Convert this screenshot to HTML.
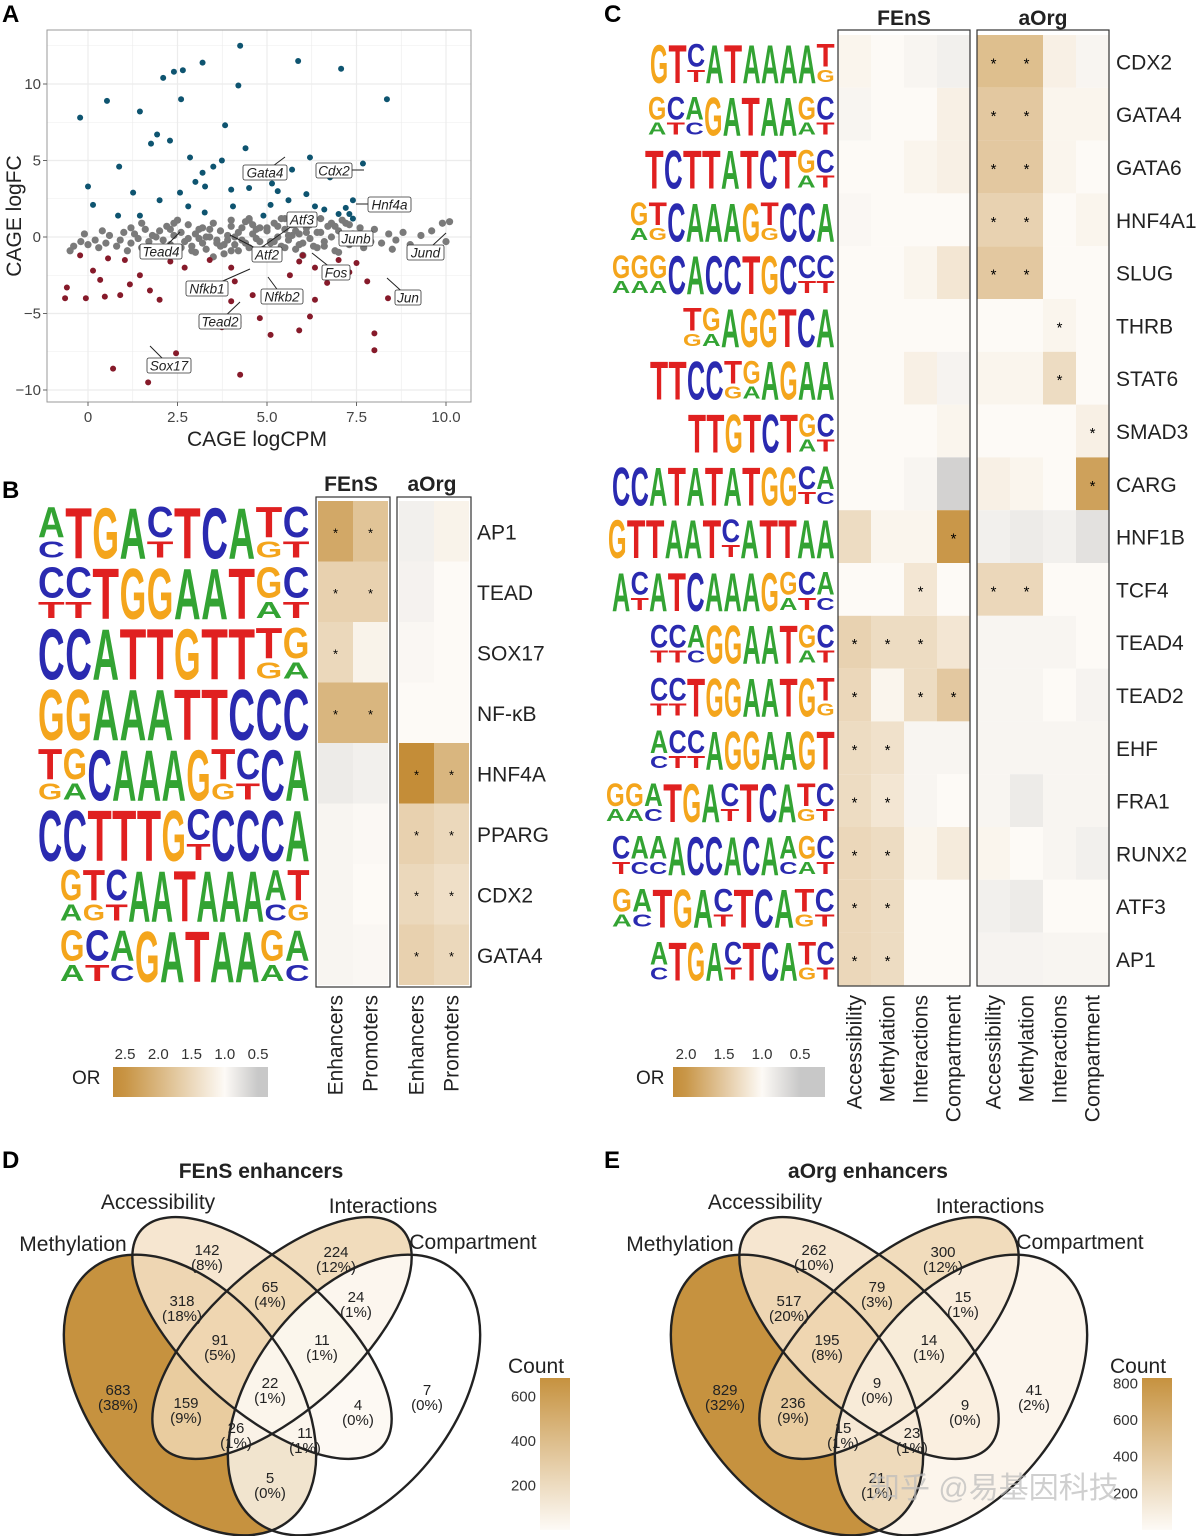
<!DOCTYPE html>
<html><head><meta charset="utf-8"><style>
html,body{margin:0;padding:0;background:#fff;}
svg{display:block;font-family:"Liberation Sans","Noto Sans CJK SC",sans-serif;}
</style></head><body>
<svg id="fig" width="1196" height="1536" viewBox="0 0 1196 1536" xmlns="http://www.w3.org/2000/svg">
<g id="panelA"></g>
<g id="panelB"></g>
<g id="panelC"></g>
<g id="panelD"></g>
<g id="panelE"></g>
<text x="870" y="1498" font-size="30" fill="#bbb" fill-opacity="0.7">知乎 @易基因科技</text>
</svg>
<script>
// ---------- Panel A data ----------
const aBlueX=[-0.22,2.1,2.4,2.65,3.2,4.25,5.87,7.07,8.35,2.6,4.2,0.53,1.45,1.93,1.76,0.87,0,0.14,1.26,2.29,3.83,2.85,3.2,4.7,5.14,6.2,7.68,6.1,6.76,7.4,7.3,5.6,4.9,4.05,3.26,2.57,2.0,1.45,4.5,6.34,7.0,7.4,3.74,5.7,3.27,2.8,5.1,0.84,4.0,3.5,4.4,5.3,6.6,7.2,3.0];
const aBlueY=[7.8,10.4,10.8,10.9,11.4,12.5,11.5,11.0,9.0,9.0,9.9,8.9,8.2,6.7,6.1,4.6,3.3,2.1,2.9,6.3,7.3,5.2,4.2,4.2,3.5,5.2,4.8,2.8,3.9,2.4,1.5,2.4,1.4,2.0,1.6,2.9,2.4,1.4,3.2,2.0,1.5,1.2,5.0,4.4,3.3,2.0,2.1,1.4,3.1,4.6,5.8,3.0,1.8,1.9,3.6];
const aRedX=[-0.22,-0.59,-0.64,-0.06,0.47,0.9,0.14,1.45,1.73,2.0,0.7,1.68,2.46,4.25,4.2,3.74,4.6,5.1,5.9,6.2,6.34,5.56,4.8,4.0,8.0,8.0,8.38,7.8,7.3,6.68,6.34,5.9,4.75,4.0,3.4,2.7,2.3,1.03,0.56,3.13,4.1,5.64,7.0,0.34,1.17,5.0,5.3,6.0,7.5];
const aRedY=[-1.2,-3.3,-4.0,-4.0,-3.9,-3.8,-2.2,-2.5,-3.5,-4.1,-8.6,-9.5,-7.6,-9.0,-5.6,-5.9,-3.8,-6.4,-6.1,-5.2,-4.1,-3.6,-5.3,-4.2,-6.3,-7.4,-4.0,-2.9,-2.3,-3.0,-2.0,-1.6,-1.0,-2.0,-1.5,-2.0,-1.6,-1.5,-1.4,-3.5,-2.9,-2.5,-1.5,-2.8,-3.1,-1.3,-1.4,-1.2,-1.7];
const aGreyX=[-0.4,-0.2,-0.5,0.0,0.2,0.3,0.5,0.6,0.8,0.9,1.0,1.1,1.2,1.3,1.4,1.5,1.6,1.7,1.8,1.9,2.0,2.1,2.2,2.3,2.4,2.5,2.6,2.7,2.8,2.9,3.0,3.1,3.2,3.3,3.4,3.5,3.6,3.7,3.8,3.9,4.0,4.1,4.2,4.3,4.4,4.5,4.6,4.7,4.8,4.9,5.0,5.1,5.2,5.3,5.4,5.5,5.6,5.7,5.8,5.9,6.0,6.1,6.2,6.3,6.4,6.5,6.6,6.7,6.8,6.9,7.0,7.1,7.2,7.3,7.4,7.5,7.6,7.7,7.8,7.9,8.0,8.2,8.4,8.6,8.8,9.0,9.3,9.6,9.9,10.1,10.0,1.5,2.0,2.5,3.0,3.5,4.0,4.5,5.0,5.5,6.0,6.5,7.0,3.2,3.7,4.2,4.8,5.3,5.8,6.3,2.8,2.3,1.2,0.4,-0.1,8.5,9.2,6.8,7.3,4.0,3.4,2.6,3.1,3.6,4.1,4.6,5.1,5.6,6.1,6.6,7.1,3.3,3.8,4.3,4.9,5.4,5.9,6.4,6.9,2.9,2.4,1.9,4.4,4.7,5.2,5.7,6.2,3.9,4.5,5.0,5.5];
const aGreyY=[-0.6,-0.3,-0.9,-0.5,-0.2,-0.7,-0.4,0.1,-0.6,-0.2,0.3,-0.9,-0.4,0.2,-0.1,-0.7,0.5,-0.3,0.1,-0.8,0.4,-0.2,0.7,-0.5,0.1,-1.0,0.3,-0.3,0.8,-0.6,0.2,-0.1,0.6,-0.8,0.0,0.9,-0.4,0.4,-1.1,0.1,0.7,-0.5,0.3,-0.2,1.0,-0.7,0.2,-0.1,0.6,-0.9,0.4,-0.3,0.9,0.0,-0.6,0.5,-0.2,0.8,-0.8,0.2,-0.4,0.6,-0.1,1.0,-0.7,0.3,-0.3,0.7,0.0,-0.9,0.4,-0.2,0.9,-0.5,0.2,-0.1,0.6,-0.7,0.1,-0.3,0.5,-0.4,0.2,-0.2,0.3,-0.5,0.1,0.4,0.9,1.0,-0.3,0.9,-1.2,1.1,-1.0,-1.3,-0.9,1.2,-1.1,1.2,-1.2,1.2,-1.0,-0.4,-0.6,-0.9,-0.3,0.7,0.4,-0.6,-0.1,0.5,0.6,0.4,0.2,-0.8,-0.8,0.9,0.8,1.1,0.5,-0.7,0.5,-0.2,0.0,0.8,-0.4,0.1,0.3,-0.6,1.1,0.0,-0.5,0.6,-0.8,1.2,-0.5,0.3,0.7,-0.9,0.9,0.0,-0.4,0.5,-0.3,0.1,0.8,-0.2,1.1,0.6,-0.7,0.2];
const aXTicks=[0,2.5,5,7.5,10];
const aXTickLabels=["0","2.5","5.0","7.5","10.0"];
const aYTicks=[10,5,0,-5,-10];
const aYTickLabels=["10","5","0","\u22125","\u221210"];

// ---------- Panel B data ----------
const bMotifs=["AP1","TEAD","SOX17","NF-\u03baB","HNF4A","PPARG","CDX2","GATA4"];
const bFEnS=[[2.2,1.8],[1.6,1.6],[1.5,1.1],[2.0,2.0],[0.85,0.9],[0.95,0.98],[0.95,1.0],[0.95,0.97]];
const bAOrg=[[0.9,1.1],[0.92,1.0],[0.97,1.0],[1.0,1.0],[2.6,2.0],[1.6,1.5],[1.5,1.4],[1.6,1.5]];
const bSigF=[[1,1],[1,1],[1,0],[1,1],[0,0],[0,0],[0,0],[0,0]];
const bSigA=[[0,0],[0,0],[0,0],[0,0],[1,1],[1,1],[1,1],[1,1]];
const bLogos=["aTGAcTCAtc","ccTGGAATgc","CCATTGTTtg","GGAAATTCCC","tgCAAAGtcCA","CCTTTGcCCCA","gtcAATAAAat","gcaGATAAga"];
const bCols=["Enhancers","Promoters"];
const bBarTicks=[2.5,2.0,1.5,1.0,0.5];

// ---------- Panel C data ----------
const cMotifs=["CDX2","GATA4","GATA6","HNF4A1","SLUG","THRB","STAT6","SMAD3","CARG","HNF1B","TCF4","TEAD4","TEAD2","EHF","FRA1","RUNX2","ATF3","AP1"];
const cFEnS=[[1.05,1.0,0.95,0.9],[0.95,1.0,1.0,1.1],[1.0,1.0,1.05,1.1],[0.97,1.0,1.0,1.0],[1.0,1.0,1.05,1.2],[1.0,1.0,1.0,1.0],[1.0,1.0,1.1,0.93],[1.0,1.0,1.0,1.05],[1.0,1.0,0.95,0.6],[1.3,1.05,1.05,2.0],[1.0,1.0,1.2,1.0],[1.4,1.3,1.3,1.2],[1.35,1.05,1.3,1.5],[1.3,1.25,0.95,0.95],[1.3,1.2,0.95,1.0],[1.35,1.3,1.05,1.15],[1.35,1.3,1.0,1.0],[1.35,1.3,1.0,1.0]];
const cAOrg=[[1.6,1.6,1.1,0.95],[1.5,1.5,1.05,1.05],[1.5,1.5,1.05,1.0],[1.4,1.4,1.0,1.05],[1.5,1.5,1.0,1.0],[1.0,1.0,1.05,1.0],[1.05,1.05,1.3,1.0],[1.0,1.0,1.0,1.1],[1.1,1.05,1.0,1.9],[0.9,0.85,0.9,0.75],[1.35,1.35,1.0,1.0],[0.95,0.95,0.95,1.0],[0.95,0.95,1.0,0.93],[0.95,0.95,0.95,0.95],[0.95,0.85,0.95,0.95],[1.05,1.0,0.95,0.9],[0.9,0.85,1.0,1.0],[0.93,0.93,0.95,0.95]];
const cSigF=[[0,0,0,0],[0,0,0,0],[0,0,0,0],[0,0,0,0],[0,0,0,0],[0,0,0,0],[0,0,0,0],[0,0,0,0],[0,0,0,0],[0,0,0,1],[0,0,1,0],[1,1,1,0],[1,0,1,1],[1,1,0,0],[1,1,0,0],[1,1,0,0],[1,1,0,0],[1,1,0,0]];
const cSigA=[[1,1,0,0],[1,1,0,0],[1,1,0,0],[1,1,0,0],[1,1,0,0],[0,0,1,0],[0,0,1,0],[0,0,0,1],[0,0,0,1],[0,0,0,0],[1,1,0,0],[0,0,0,0],[0,0,0,0],[0,0,0,0],[0,0,0,0],[0,0,0,0],[0,0,0,0],[0,0,0,0]];
const cLogos=["GTcATAAAAt","gcaGATAAgc","TCTTATCTgc","gtCAAAGtCCA","gggCACCTGCcc","tgAGGTCA","TTCCtgAGAA","TTGTCTgc","CCATATATGGca","GTTAATcATTAA","AcATCAAAGgca","ccaGGAATgc","ccTGGAATGt","accAGGAAGT","ggaTGAcTCAtc","caaACCACAagc","gaTGAcTCAtc","aTGAcTCAtc"];
const cLogoX=[650,648,645,630,612,683,650,688,612,608,612,650,650,650,606,612,612,650];
const cCols=["Accessibility","Methylation","Interactions","Compartment"];
const cBarTicks=[2.0,1.5,1.0,0.5];

// ---------- Panels D/E data ----------
const vennSets=["Methylation","Accessibility","Interactions","Compartment"];
const dCounts=["683","318","142","65","224","24","91","11","22","159","4","7","26","11","5"];
const dPct=["38%","18%","8%","4%","12%","1%","5%","1%","1%","9%","0%","0%","1%","1%","0%"];
const eCounts=["829","517","262","79","300","15","195","14","9","236","9","41","15","23","21"];
const ePct=["32%","20%","10%","3%","12%","1%","8%","1%","0%","9%","0%","2%","1%","1%","1%"];
const dBarTicks=[600,400,200];
const eBarTicks=[800,600,400,200];

// ---------- helpers ----------
const NS="http://www.w3.org/2000/svg";
function mk(tag,attrs,parent,txt){const e=document.createElementNS(NS,tag);for(const k in attrs)e.setAttribute(k,attrs[k]);if(txt!==undefined)e.textContent=txt;parent.appendChild(e);return e;}
function mix(c1,c2,t){t=Math.max(0,Math.min(1,t));const r=[0,1,2].map(i=>Math.round(c1[i]+(c2[i]-c1[i])*t));return`rgb(${r[0]},${r[1]},${r[2]})`;}
const GOLD=[196,141,56],WHITE=[253,250,246],GREY=[200,200,200];
function orColor(v,max){return v>=1?mix(WHITE,GOLD,(v-1)/(max-1)):mix(WHITE,GREY,(1-v)/0.5);}
const LC={A:"#33a333",C:"#2a2ab0",G:"#f4a51c",T:"#e02020"};
function drawLogo(g,str,x0,x1,yTop,yBot){
  const n=str.length,w=(x1-x0)/n,h=yBot-yTop;
  for(let i=0;i<n;i++){const ch=str[i],up=ch.toUpperCase(),small=ch!==up;
    const hh=small?h*0.55:h*0.92, top=small?yTop+h*0.05:yTop+h*0.06;
    const fs=hh/0.72;
    const t=mk("text",{x:x0+i*w,y:top+hh,"font-size":fs,"font-weight":"bold",fill:LC[up],textLength:w*0.98,lengthAdjust:"spacingAndGlyphs"},g,up);
    
    
    if(small){const other={A:"C",C:"T",G:"A",T:"G"}[up];
      const t2=mk("text",{x:x0+i*w,y:yBot-2,"font-size":h*0.3/0.72,"font-weight":"bold",fill:LC[other],textLength:w*0.98,lengthAdjust:"spacingAndGlyphs"},g,other);
      
      }
  }
}
function label(g,x,y,txt,opts){const a=Object.assign({x:x,y:y,"font-size":20,fill:"#222"},opts||{});return mk("text",a,g,txt);}

// ---------- Panel A ----------
(function(){
 const g=document.getElementById("panelA");
 const X=v=>88+v*35.8, Y=v=>237-v*15.3;
 const pl=47,pr=471,pt=30,pb=402;
 mk("rect",{x:pl,y:pt,width:pr-pl,height:pb-pt,fill:"#fff"},g);
 for(let v=-1.25;v<=11.5;v+=1.25){const x=X(v);if(x>pl&&x<pr)mk("line",{x1:x,x2:x,y1:pt,y2:pb,stroke:"#ececec","stroke-width":Math.abs(v/2.5-Math.round(v/2.5))<1e-6?1.2:0.6},g);}
 for(let v=-12.5;v<=12.5;v+=2.5){const y=Y(v);if(y>pt&&y<pb)mk("line",{x1:pl,x2:pr,y1:y,y2:y,stroke:"#ececec","stroke-width":Math.abs(v/5-Math.round(v/5))<1e-6?1.2:0.6},g);}
 mk("rect",{x:pl,y:pt,width:pr-pl,height:pb-pt,fill:"none",stroke:"#999","stroke-width":1},g);
 aXTicks.forEach((v,i)=>{mk("line",{x1:X(v),x2:X(v),y1:pb,y2:pb+4,stroke:"#666"},g);const t=label(g,X(v),pb+20,aXTickLabels[i],{"font-size":15,"text-anchor":"middle",fill:"#444"});});
 aYTicks.forEach((v,i)=>{mk("line",{x1:pl-4,x2:pl,y1:Y(v),y2:Y(v),stroke:"#666"},g);const t=label(g,pl-6,Y(v)+5,aYTickLabels[i],{"font-size":15,"text-anchor":"end",fill:"#444"});});
 const xt=label(g,257,446,"CAGE logCPM",{"text-anchor":"middle","font-size":21});
 const yt=label(g,0,0,"CAGE logFC",{"text-anchor":"middle","font-size":21,transform:"translate(21,216) rotate(-90)"});
 aGreyX.forEach((v,i)=>{const c=mk("circle",{cx:X(v),cy:Y(aGreyY[i]),r:3.6,fill:"#7a7a7a"},g);});
 aBlueX.forEach((v,i)=>{const c=mk("circle",{cx:X(v),cy:Y(aBlueY[i]),r:3.0,fill:"#0e5470"},g);});
 aRedX.forEach((v,i)=>{const c=mk("circle",{cx:X(v),cy:Y(aRedY[i]),r:3.0,fill:"#861a2a"},g);});
 const labs=[["Gata4",243,165,44,285],["Cdx2",316,163,36,364],["Hnf4a",368,197,43,356],["Atf3",287,212,30,255],["Junb",339,231,34,360],["Jund",407,245,37,446],["Tead4",140,244,42,180],["Atf2",252,247,30,230],["Fos",322,265,28,312],["Nfkb1",186,281,42,250],["Nfkb2",261,289,42,268],["Jun",395,290,26,387],["Tead2",199,314,42,240],["Sox17",147,358,44,150]];
 labs.forEach(l=>{mk("line",{x1:l[1]+l[3]/2,y1:l[2]+7,x2:l[4],y2:l[2]<237?l[2]+(l[0]=="Gata4"?-8:(l[0]=="Atf3"?40:7)):l[2]-12,stroke:"#222","stroke-width":1},g);
  const r=mk("rect",{x:l[1],y:l[2],width:l[3],height:15,rx:2,fill:"#fff",stroke:"#333","stroke-width":0.8},g);
  const t=label(g,l[1]+l[3]/2,l[2]+12.5,l[0],{"font-size":13.5,"font-style":"italic","text-anchor":"middle"});});
 const pa=label(g,2,22,"A",{"font-size":24,"font-weight":"bold",fill:"#000"});
})();

// ---------- Panel B ----------
(function(){
 const g=document.getElementById("panelB");
 const top=501,rh=60.5,cw=35;
 const fx=318,ax=399;
 bMotifs.forEach((m,r)=>{
  const y=top+r*rh;
  for(let c=0;c<2;c++){
   const r1=mk("rect",{x:fx+c*cw,y:y,width:cw,height:rh,fill:orColor(bFEnS[r][c],2.6)},g);
   const r2=mk("rect",{x:ax+c*cw,y:y,width:cw,height:rh,fill:orColor(bAOrg[r][c],2.6)},g);
   if(bSigF[r][c])label(g,fx+c*cw+cw/2,y+rh/2+6,"*",{"font-size":13,"text-anchor":"middle",fill:"#000"});
   if(bSigA[r][c])label(g,ax+c*cw+cw/2,y+rh/2+6,"*",{"font-size":13,"text-anchor":"middle",fill:"#000"});
  }
  const t=label(g,477,y+rh/2+8,m,{"font-size":21});
  const startX=(r>=6)?60:38;
  drawLogo(g,bLogos[r],startX,310,y+2,y+rh-2);
 });
 mk("rect",{x:316,y:497,width:74,height:490,fill:"none",stroke:"#333","stroke-width":1.2},g);
 mk("rect",{x:397,y:497,width:74,height:490,fill:"none",stroke:"#333","stroke-width":1.2},g);
 const h1=label(g,351,491,"FEnS",{"font-size":21,"font-weight":"bold","text-anchor":"middle"});
 const h2=label(g,432,491,"aOrg",{"font-size":21,"font-weight":"bold","text-anchor":"middle"});
 [fx,ax].forEach(x0=>bCols.forEach((c,i)=>{const t=label(g,0,0,c,{"font-size":21,"text-anchor":"end",transform:`translate(${x0+i*cw+cw/2+7},995) rotate(-90)`});}));
 const bx=(v)=>125+(2.5-v)*66.5;
 const defs=mk("defs",{},g);const lg=mk("linearGradient",{id:"gb",x1:"0",x2:"1",y1:"0",y2:"0"},defs);
 [3.0,2.5,2.0,1.5,1.0,0.5,0.35].forEach(v=>{mk("stop",{offset:((bx(v)-113)/155).toFixed(3),"stop-color":orColor(Math.max(0.5,v),2.6)},lg);});
 const cb=mk("rect",{x:113,y:1067,width:155,height:30,fill:"url(#gb)"},g);
 bBarTicks.forEach(v=>{label(g,bx(v),1059,v.toFixed(1),{"font-size":15,"text-anchor":"middle",fill:"#333"});});
 label(g,72,1084,"OR",{"font-size":19});
 const pb=label(g,2,498,"B",{"font-size":24,"font-weight":"bold",fill:"#000"});
})();

// ---------- Panel C ----------
(function(){
 const g=document.getElementById("panelC");
 const top=35,rh=52.8,cw=33;
 const fx=838,ax=977;
 cMotifs.forEach((m,r)=>{
  const y=top+r*rh;
  for(let c=0;c<4;c++){
   const r1=mk("rect",{x:fx+c*cw,y:y,width:cw,height:rh,fill:orColor(cFEnS[r][c],2.1)},g);
   const r2=mk("rect",{x:ax+c*cw,y:y,width:cw,height:rh,fill:orColor(cAOrg[r][c],2.1)},g);
   if(cSigF[r][c])label(g,fx+c*cw+cw/2,y+rh/2+7,"*",{"font-size":15,"text-anchor":"middle",fill:"#000"});
   if(cSigA[r][c])label(g,ax+c*cw+cw/2,y+rh/2+7,"*",{"font-size":15,"text-anchor":"middle",fill:"#000"});
  }
  const t=label(g,1116,y+rh/2+8,m,{"font-size":21});
  drawLogo(g,cLogos[r],cLogoX[r],835,y+6,y+rh-4);
 });
 mk("rect",{x:838,y:30,width:132,height:956,fill:"none",stroke:"#333","stroke-width":1.2},g);
 mk("rect",{x:977,y:30,width:132,height:956,fill:"none",stroke:"#333","stroke-width":1.2},g);
 const h1=label(g,904,25,"FEnS",{"font-size":21,"font-weight":"bold","text-anchor":"middle"});
 const h2=label(g,1043,25,"aOrg",{"font-size":21,"font-weight":"bold","text-anchor":"middle"});
 [fx,ax].forEach(x0=>cCols.forEach((c,i)=>{const t=label(g,0,0,c,{"font-size":21,"text-anchor":"end",transform:`translate(${x0+i*cw+cw/2+7},995) rotate(-90)`});}));
 const bx=(v)=>686+(2.0-v)*76;
 const defs=mk("defs",{},g);const lg=mk("linearGradient",{id:"gc",x1:"0",x2:"1",y1:"0",y2:"0"},defs);
 [2.2,2.0,1.5,1.0,0.5,0.35].forEach(v=>{mk("stop",{offset:((bx(v)-673)/152).toFixed(3),"stop-color":orColor(Math.max(0.5,v),2.1)},lg);});
 const cb=mk("rect",{x:673,y:1067,width:152,height:30,fill:"url(#gc)"},g);
 cBarTicks.forEach(v=>{label(g,bx(v),1059,v.toFixed(1),{"font-size":15,"text-anchor":"middle",fill:"#333"});});
 label(g,636,1084,"OR",{"font-size":19});
 const pc=label(g,604,22,"C",{"font-size":24,"font-weight":"bold",fill:"#000"});
})();

// ---------- Venn ----------
function venn(gid,dx,title,counts,pct,ticks,maxC,compFill,letter){
 const g=document.getElementById(gid);
 const T=(x)=>x+dx;
 const ell=[[190,1395,160,100,52],[262,1338,162,72,42],[282,1338,162,72,-42],[354,1395,160,100,-52]];
 const fills=["#c6923f","#f4e2c8","#efd6b0",compFill];
 ell.forEach((e,i)=>{const el=mk("ellipse",{cx:T(e[0]),cy:e[1],rx:e[2],ry:e[3],transform:`rotate(${e[4]} ${T(e[0])} ${e[1]})`,fill:fills[i],"fill-opacity":i==0?1:(i==3?0.75:0.85)},g);});
 ell.forEach((e,i)=>{mk("ellipse",{cx:T(e[0]),cy:e[1],rx:e[2],ry:e[3],transform:`rotate(${e[4]} ${T(e[0])} ${e[1]})`,fill:"none",stroke:"#222","stroke-width":2.4},g);});
 const pos=[[118,1395],[182,1306],[207,1255],[270,1292],[336,1257],[356,1302],[220,1345],[322,1345],[270,1388],[186,1408],[358,1410],[427,1395],[236,1433],[305,1438],[270,1483]];
 counts.forEach((c,i)=>{const t=label(g,T(pos[i][0]),pos[i][1],c,{"font-size":15,"text-anchor":"middle"});
  label(g,T(pos[i][0]),pos[i][1]+15,"("+pct[i]+")",{"font-size":15,"text-anchor":"middle"});});
 const sp=[[73,1251],[158,1209],[383,1213],[473,1249]];
 vennSets.forEach((s,i)=>{const t=label(g,T(sp[i][0]),sp[i][1],s,{"font-size":21,"text-anchor":"middle"});});
 const tt=label(g,T(261),1178,title,{"font-size":21,"font-weight":"bold","text-anchor":"middle"});
 const bx=dx==0?540:1142;
 const defs=mk("defs",{},g);const lg=mk("linearGradient",{id:"g"+gid,x1:"0",x2:"0",y1:"0",y2:"1"},defs);
 mk("stop",{offset:"0","stop-color":"#c6923f"},lg);mk("stop",{offset:"1","stop-color":"#fdfaf6"},lg);
 const cb=mk("rect",{x:bx,y:1378,width:30,height:152,fill:"url(#g"+gid+")"},g);
 const Y=v=>1530-(v/maxC)*152;
 ticks.forEach(v=>{label(g,bx-4,Y(v)+5,String(v),{"font-size":15,"text-anchor":"end",fill:"#333"});});
 label(g,bx-32,1373,"Count",{"font-size":21});
 const pl=label(g,dx==0?2:604,1168,letter,{"font-size":24,"font-weight":"bold",fill:"#000"});
}
venn("panelD",0,"FEnS enhancers",dCounts,dPct,dBarTicks,683,"#ffffff","D");
venn("panelE",607,"aOrg enhancers",eCounts,ePct,eBarTicks,829,"#fbf2e6","E");
</script>
</body></html>
